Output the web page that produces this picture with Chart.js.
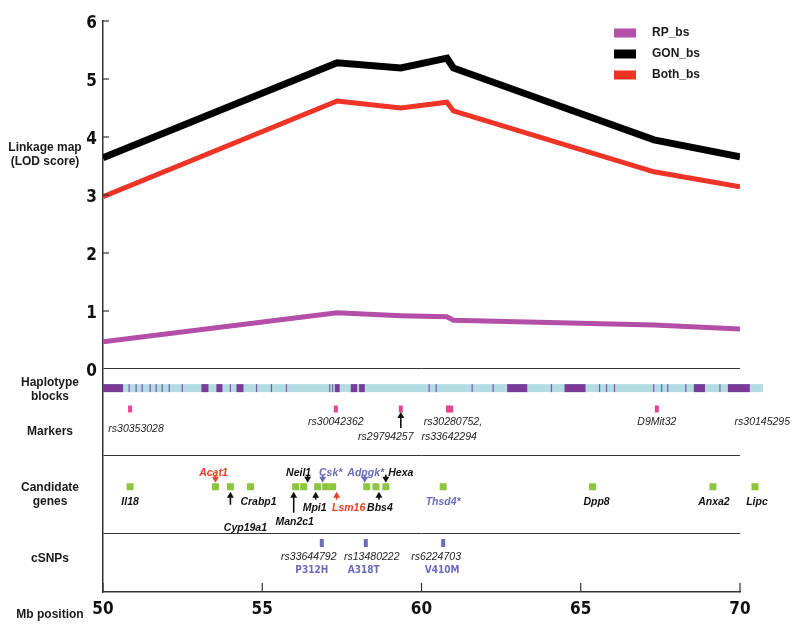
<!DOCTYPE html>
<html><head><meta charset="utf-8">
<script src="https://cdn.jsdelivr.net/npm/chart.js@4.4.1/dist/chart.umd.min.js"></script>
<style>html,body{margin:0;padding:0;background:#fff}canvas{display:block}</style>
</head><body>
<canvas id="c" width="800" height="628"></canvas>
<script>
// ---------------- data ----------------
const LINE_X  = [50, 57.35, 59.35, 60.8, 61.0, 67.3, 70];
const RP_BS   = [0.47, 0.97, 0.92, 0.90, 0.84, 0.76, 0.69];
const GON_BS  = [3.64, 5.28, 5.19, 5.36, 5.19, 3.95, 3.66];
const BOTH_BS = [2.97, 4.62, 4.50, 4.60, 4.45, 3.40, 3.14];
const SERIES_NAMES = ['RP_bs', 'GON_bs', 'Both_bs'];
const Y_TICKS = [0, 1, 2, 3, 4, 5, 6];
const X_TICKS = [50, 55, 60, 65, 70];

const HAPLO_RANGE  = [50, 70.72];
const HAPLO_BLOCKS = [[50.0,50.63],[53.09,53.31],[53.56,53.75],[54.19,54.41],[57.28,57.43],[57.78,57.98],[58.04,58.22],[62.69,63.32],[64.49,65.15],[68.55,68.9],[69.62,70.31]];
const HAPLO_LINES  = [50.82,51.04,51.23,51.48,51.67,51.86,52.08,52.49,54.0,54.82,55.29,55.76,57.12,57.21,60.24,60.46,61.59,62.25,64.08,65.59,65.81,66.06,67.29,67.54,67.73,68.3,69.37];

const MARKER_NAMES = ['rs30353028','rs30042362','rs29794257','rs30280752','rs33642294','D9Mit32'];
const MARKER_POS   = [50.85, 57.31, 59.35, 60.83, 60.93, 67.39];
const MARKER_LABELS = ['rs30353028','rs30042362','rs29794257','rs30280752,','rs33642294','D9Mit32','rs30145295'];
const MARKER_LABEL_POS = [50.85, 57.31, 59.35, 60.83, 60.93, 67.39, 70.7];

const GENE_NAMES = ['Il18','Acat1','Cyp19a1','Crabp1','Man2c1','Neil1','Mpi1','Csk*','Lsm16','Adpgk*','Bbs4','Hexa','Thsd4*','Dpp8','Anxa2','Lipc'];
const GENE_POS   = [50.85, 53.53, 54.0, 54.63, 56.05, 56.3, 56.74, 56.99, 57.21, 58.28, 58.57, 58.88, 60.68, 65.37, 69.15, 70.47];

const CSNP_IDS = ['rs33644792','rs13480222','rs6224703'];
const CSNP_AA  = ['P312H','A318T','V410M'];
const CSNP_POS = [56.87, 58.25, 60.68];

const TRACK_NAMES = [['Linkage map','(LOD score)'],['Haplotype','blocks'],['Markers'],['Candidate','genes'],['cSNPs']];
const X_TITLE = 'Mb position';

// ---------------- layout / style ----------------
const TRACK = {hap: -0.33, marker: -0.69, sep1: -1.5, gene: -2.03, sep2: -2.83, snp: -3.0};
const FONT = "'Liberation Sans', Arial, Helvetica, sans-serif";
const NARROW = "'Liberation Sans Narrow', 'Arial Narrow', 'DejaVu Sans Condensed', sans-serif";
const RED = '#e8402a', BLUE = '#6b6bbb', BLACK = '#111';
const COLORS = ['#b34fa7', '#000000', '#ee3327'];
const WIDTHS = [5, 7, 5];

const MARKER_LABEL_LAYOUT = [ // dx, dy (px)
  [6,20],[0,13],[-15,28],[5,13],[-2,28],[0,13],[0,13]
];
const MARKER_ARROWS = {'rs29794257': true};
const GENE_LAYOUT = { // dx, dy, color, arrow: [dir, dx, tail]
  'Il18':   [0,15,BLACK,null],
  'Acat1':  [-2,-14,RED,['down',0,12]],
  'Cyp19a1':[15,41,BLACK,['up',0,18]],
  'Crabp1': [8,15,BLACK,null],
  'Man2c1': [-1,35,BLACK,['up',-2,26]],
  'Neil1':  [-5,-14,BLACK,['down',4,12]],
  'Mpi1':   [-3,21,BLACK,['up',-2,13]],
  'Csk*':   [5,-14,BLUE,['down',-3,12]],
  'Lsm16':  [16,21,RED,['up',4,13]],
  'Adpgk*': [-1,-14,BLUE,['down',-2,12]],
  'Bbs4':   [4,21,BLACK,['up',3,13]],
  'Hexa':   [15,-14,BLACK,['down',0,12]],
  'Thsd4*': [0,15,BLUE,null],
  'Dpp8':   [4,15,BLACK,null],
  'Anxa2':  [1,15,BLACK,null],
  'Lipc':   [2,15,BLACK,null]
};
const CSNP_LAYOUT = [[-13,-10],[6,-2],[-7,-1]]; // dx of id label, dx of aa label

function txt(ctx, s, x, y, font, color, align) {
  ctx.font = font; ctx.fillStyle = color; ctx.textAlign = align || 'center'; ctx.textBaseline = 'middle';
  ctx.fillText(s, x, y);
}
function arrow(ctx, x, yTail, yHead, color) {
  ctx.strokeStyle = color; ctx.fillStyle = color; ctx.lineWidth = 1.6;
  const d = yHead > yTail ? 1 : -1;
  ctx.beginPath(); ctx.moveTo(x, yTail); ctx.lineTo(x, yHead - d*5); ctx.stroke();
  ctx.beginPath(); ctx.moveTo(x - 3.5, yHead - d*6); ctx.lineTo(x + 3.5, yHead - d*6); ctx.lineTo(x, yHead); ctx.closePath(); ctx.fill();
}

const tracksPlugin = {
  id: 'tracks',
  beforeDatasetsDraw(chart) {
    const ctx = chart.ctx, xs = chart.scales.x, ys = chart.scales.y;
    ctx.save();
    const yc = ys.getPixelForValue(TRACK.hap);
    const a = xs.getPixelForValue(HAPLO_RANGE[0]), b = xs.getPixelForValue(HAPLO_RANGE[1]);
    ctx.fillStyle = '#b3dde2'; ctx.fillRect(a, yc - 4, b - a, 8);
    ctx.fillStyle = '#7b3c98';
    HAPLO_BLOCKS.forEach(([s, e]) => { const p = xs.getPixelForValue(s), q = xs.getPixelForValue(e); ctx.fillRect(p, yc - 4, q - p, 8); });
    ctx.fillStyle = '#7f58aa';
    HAPLO_LINES.forEach(v => { const p = xs.getPixelForValue(v); ctx.fillRect(p - 0.6, yc - 4, 1.2, 8); });
    ctx.restore();
  },
  afterDatasetsDraw(chart) {
    const ctx = chart.ctx, xs = chart.scales.x, ys = chart.scales.y, area = chart.chartArea;
    ctx.save();
    ctx.strokeStyle = '#333'; ctx.lineWidth = 1.2;
    Y_TICKS.forEach(v => { if (v === 0) return; const p = ys.getPixelForValue(v); ctx.beginPath(); ctx.moveTo(area.left, p); ctx.lineTo(area.left + 6, p); ctx.stroke(); });
    X_TICKS.forEach(v => { const p = xs.getPixelForValue(v); ctx.beginPath(); ctx.moveTo(p, area.bottom); ctx.lineTo(p, area.bottom - 9); ctx.stroke(); });

    const ym = ys.getPixelForValue(TRACK.marker);
    ctx.fillStyle = '#e8458e';
    MARKER_POS.forEach(v => { const p = xs.getPixelForValue(v); ctx.fillRect(p - 2, ym - 3.5, 4, 7); });
    MARKER_LABELS.forEach((s, i) => {
      const p = xs.getPixelForValue(MARKER_LABEL_POS[i]); const [dx, dy] = MARKER_LABEL_LAYOUT[i];
      txt(ctx, s, p + dx, ym + dy, 'italic 10.5px ' + FONT, '#222');
    });
    MARKER_NAMES.forEach((s, i) => { if (MARKER_ARROWS[s]) { const p = xs.getPixelForValue(MARKER_POS[i]); arrow(ctx, p, ym + 19, ym + 3, BLACK); } });

    const yg = ys.getPixelForValue(TRACK.gene);
    ctx.fillStyle = '#8cc63f';
    GENE_POS.forEach(v => { const p = xs.getPixelForValue(v); ctx.fillRect(p - 3.5, yg - 3.5, 7, 7); });
    GENE_NAMES.forEach((s, i) => {
      const p = xs.getPixelForValue(GENE_POS[i]); const [dx, dy, col, ar] = GENE_LAYOUT[s];
      txt(ctx, s, p + dx, yg + dy, 'italic bold 10.5px ' + FONT, col);
      if (ar) {
        if (ar[0] === 'down') arrow(ctx, p + ar[1], yg - ar[2], yg - 4, col);
        else arrow(ctx, p + ar[1], yg + ar[2], yg + 5, col);
      }
    });

    const ysn = ys.getPixelForValue(TRACK.snp);
    ctx.fillStyle = '#6d6db7';
    CSNP_POS.forEach(v => { const p = xs.getPixelForValue(v); ctx.fillRect(p - 2, ysn - 4, 4, 8); });
    CSNP_IDS.forEach((s, i) => {
      const p = xs.getPixelForValue(CSNP_POS[i]);
      txt(ctx, s, p + CSNP_LAYOUT[i][0], ysn + 14, 'italic 10.5px ' + FONT, '#222');
      txt(ctx, CSNP_AA[i], p + CSNP_LAYOUT[i][1], ysn + 27, 'bold 10px ' + NARROW, BLUE);
    });

    const tf = 'bold 12px ' + FONT;
    txt(ctx, TRACK_NAMES[0][0], 45, 148, tf, '#1a1a1a');
    txt(ctx, TRACK_NAMES[0][1], 45, 162, tf, '#1a1a1a');
    txt(ctx, TRACK_NAMES[1][0], 50, ys.getPixelForValue(TRACK.hap) - 5, tf, '#1a1a1a');
    txt(ctx, TRACK_NAMES[1][1], 50, ys.getPixelForValue(TRACK.hap) + 9, tf, '#1a1a1a');
    txt(ctx, TRACK_NAMES[2][0], 50, ym + 23, tf, '#1a1a1a');
    txt(ctx, TRACK_NAMES[3][0], 50, yg + 1, tf, '#1a1a1a');
    txt(ctx, TRACK_NAMES[3][1], 50, yg + 15, tf, '#1a1a1a');
    txt(ctx, TRACK_NAMES[4][0], 50, ysn + 16, tf, '#1a1a1a');
    txt(ctx, X_TITLE, 50, area.bottom + 23, 'bold 12px ' + FONT, '#1a1a1a');

    chart.data.datasets.forEach((d, i) => {
      const y = 33 + i * 21;
      ctx.fillStyle = d.borderColor; ctx.fillRect(614, y - 4.5, 22, 9);
      txt(ctx, d.label, 652, y, 'bold 12px ' + FONT, '#1a1a1a', 'left');
    });
    ctx.restore();
  }
};

const series = [RP_BS, GON_BS, BOTH_BS];
new Chart(document.getElementById('c'), {
  type: 'line',
  data: {
    datasets: series.map((arr, i) => ({
      label: SERIES_NAMES[i],
      data: LINE_X.map((x, j) => ({x: x, y: arr[j]})),
      borderColor: COLORS[i], backgroundColor: COLORS[i], borderWidth: WIDTHS[i],
      pointRadius: 0, tension: 0, fill: false
    }))
  },
  options: {
    responsive: false, animation: false, events: [],
    layout: {padding: {top: 21, right: 60, left: 0, bottom: 0}},
    plugins: {legend: {display: false}, tooltip: {enabled: false}},
    scales: {
      x: {
        type: 'linear', min: 50, max: 70,
        afterBuildTicks: s => { s.ticks = X_TICKS.map(v => ({value: v})); },
        afterFit: s => { s.height = 36; },
        ticks: {font: {family: NARROW, size: 17, weight: 'bold'}, color: '#111', padding: 7, maxRotation: 0, autoSkip: false},
        grid: {display: false, drawTicks: false},
        border: {display: true, color: '#333', width: 1.5}
      },
      y: {
        type: 'linear', min: -3.845, max: 6,
        afterBuildTicks: s => { s.ticks = [TRACK.sep2, TRACK.sep1].concat(Y_TICKS).map(v => ({value: v})); },
        afterFit: s => { s.width = 103; },
        ticks: {callback: v => (v >= 0 ? String(v) : ''), font: {family: NARROW, size: 17, weight: 'bold'}, color: '#111', padding: 6, labelOffset: 3, autoSkip: false},
        grid: {color: c => (c.tick && c.tick.value <= 0 ? '#333' : 'rgba(0,0,0,0)'), lineWidth: 1, drawTicks: false},
        border: {display: true, color: '#333', width: 1.5}
      }
    }
  },
  plugins: [tracksPlugin]
});
</script>
</body></html>
